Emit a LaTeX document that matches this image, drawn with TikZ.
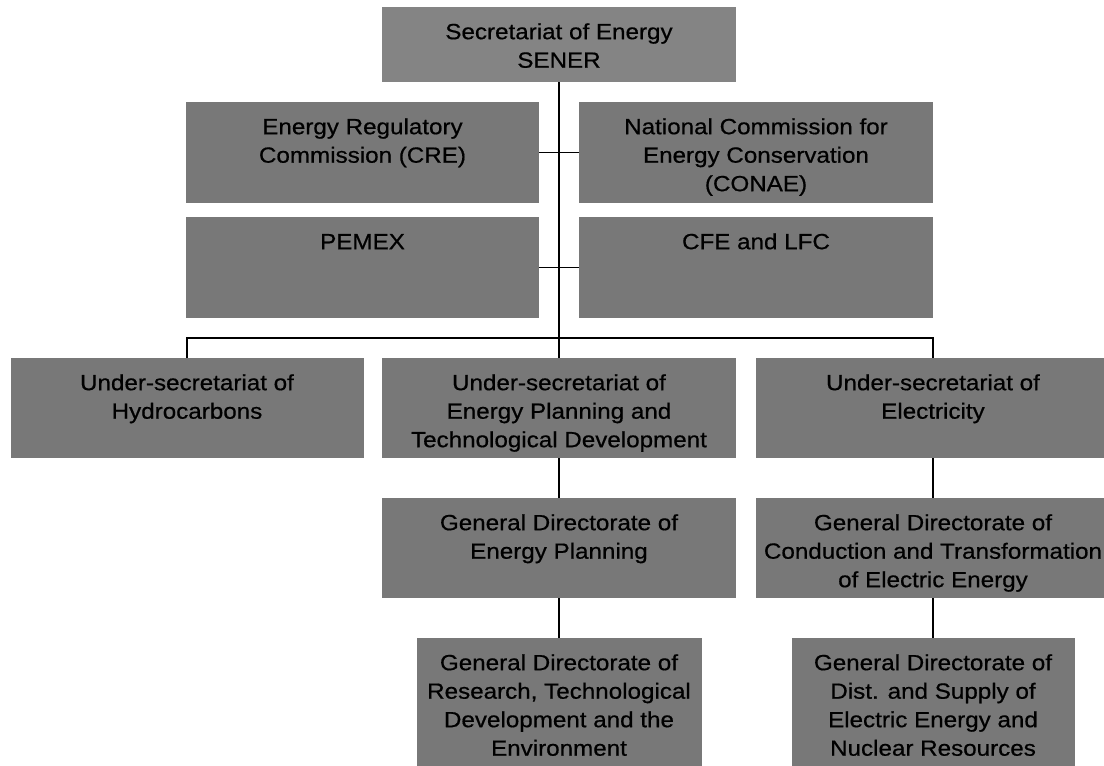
\documentclass[tikz,border=0pt]{standalone}
\usepackage{fontspec}
\setmainfont{Liberation Sans}[FakeStretch=1.1,FakeBold=0.6]
\definecolor{boxgray}{RGB}{120,120,120}
\definecolor{topgray}{RGB}{132,132,132}
\newcommand\orgbox[3]{\parbox[c][#2][t]{#1}{\centering\fontsize{22}{28.5}\selectfont\rule{0pt}{32pt}#3}}
\tikzset{
  orgnode/.style={fill=boxgray, draw=none, inner sep=0pt, anchor=north},
  link/.style={draw=black, line width=1.3pt}
}
\begin{document}
\begin{tikzpicture}[x=1pt,y=-1pt]
\useasboundingbox (0,0) rectangle (1104,766);
\node[orgnode, fill=topgray] (sener) at (559,7) {\orgbox{354pt}{75pt}{Secretariat of Energy\\SENER}};
\node[orgnode] (cre) at (362.5,102) {\orgbox{353pt}{101pt}{Energy Regulatory\\Commission (CRE)}};
\node[orgnode] (conae) at (756,102) {\orgbox{354pt}{101pt}{National Commission for\\Energy Conservation\\(CONAE)}};
\node[orgnode] (pemex) at (362.5,217) {\orgbox{353pt}{101pt}{PEMEX}};
\node[orgnode] (cfe) at (756,217) {\orgbox{354pt}{101pt}{CFE and LFC}};
\node[orgnode] (hydro) at (187,358) {\orgbox{353pt}{100pt}{Under-secretariat of\\Hydrocarbons}};
\node[orgnode] (plan) at (559,358) {\orgbox{354pt}{100pt}{Under-secretariat of\\Energy Planning and\\Technological Development}};
\node[orgnode] (elec) at (933,358) {\orgbox{354pt}{100pt}{Under-secretariat of\\Electricity}};
\node[orgnode] (gdep) at (559,498) {\orgbox{354pt}{100pt}{General Directorate of\\Energy Planning}};
\node[orgnode] (gdct) at (933,498) {\orgbox{354pt}{100pt}{General Directorate of\\Conduction and Transformation\\of Electric Energy}};
\node[orgnode] (gdrt) at (559,638) {\orgbox{285pt}{140pt}{General Directorate of\\Research, Technological\\Development and the\\Environment}};
\node[orgnode] (gdds) at (933,638) {\orgbox{283pt}{140pt}{General Directorate of\\Dist. and Supply of\\Electric Energy and\\Nuclear Resources}};
\coordinate (bus) at (559,338);
\draw[link] (sener.south) -- (plan.north);
\draw[link] (cre.east) -- (conae.west);
\draw[link] (pemex.east) -- (cfe.west);
\draw[link] (hydro.north) |- (bus) -| (elec.north);
\draw[link] (plan.south) -- (gdep.north);
\draw[link] (gdep.south) -- (gdrt.north);
\draw[link] (elec.south) -- (gdct.north);
\draw[link] (gdct.south) -- (gdds.north);
\end{tikzpicture}
\end{document}
